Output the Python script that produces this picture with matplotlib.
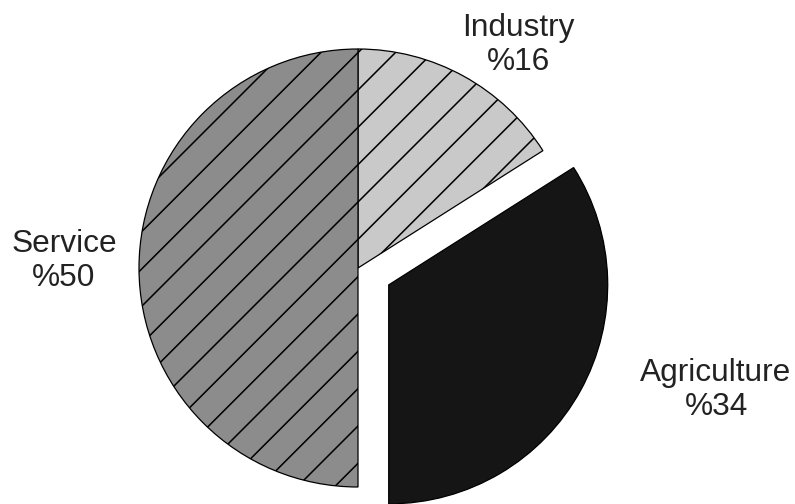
import matplotlib
matplotlib.use("Agg")
import matplotlib.pyplot as plt

# Sector shares of the economy (%)
sectors = ["Industry", "Agriculture", "Service"]
shares = [16, 34, 50]
fills = ["#c9c9c9", "#151515", "#8c8c8c"]
hatches = ["/", "", "/"]
explode = [0, 0.16, 0]

DPI = 112
W, H = 795, 504
R = 219
plt.rcParams["font.family"] = ["Liberation Sans", "DejaVu Sans"]
plt.rcParams["hatch.linewidth"] = 1.0
plt.rcParams["hatch.color"] = "black"

fig = plt.figure(figsize=(W / DPI, H / DPI), dpi=DPI)
ax = fig.add_axes([0, 0, 1, 1])

wedges, _ = ax.pie(
    shares,
    explode=[e * R for e in explode],
    colors=fills,
    startangle=90,
    counterclock=False,
    center=(358, H - 268),
    radius=R,
    frame=True,
    wedgeprops=dict(edgecolor="black", linewidth=0.8),
)
for w, h in zip(wedges, hatches):
    w.set_hatch(h)
ax.set_xlim(0, W)
ax.set_ylim(0, H)
ax.set_axis_off()

# label anchors (pixel coordinates, top-left origin)
label_xy = [(518, 45), (716, 390), (64, 261)]
for name, val, (x, y) in zip(sectors, shares, label_xy):
    ax.text(x, H - y, f"{name}\n%{val}", ha="center", va="center",
            fontsize=20.3, color="#222222", linespacing=1.2)

fig.savefig("out.png", dpi=DPI)
